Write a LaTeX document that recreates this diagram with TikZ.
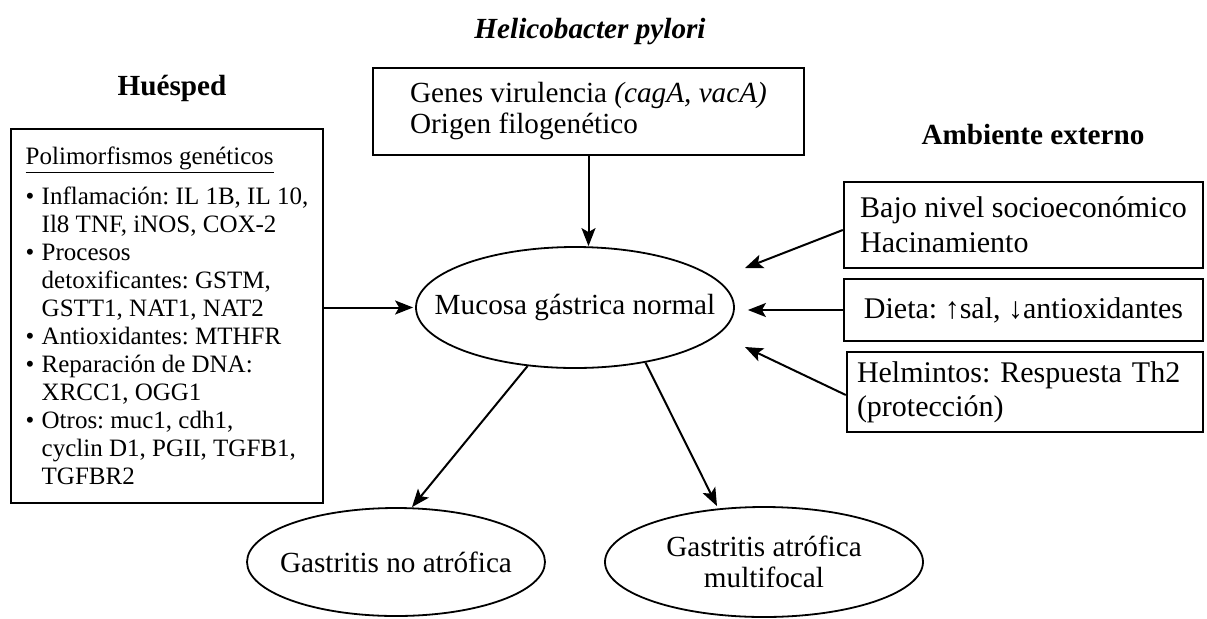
\documentclass[tikz,border=0pt]{standalone}
\usepackage{fontspec}
\setmainfont{Liberation Serif}
\usetikzlibrary{arrows.meta,shapes.geometric}
\newcommand{\bl}{\makebox[8pt][l]{\textbullet}}
\newcommand{\ind}{\hspace*{8pt}}
\frenchspacing

\begin{document}
\begin{tikzpicture}[x=0.5pt,y=-0.5pt,
  font=\fontsize{14.6}{15.5}\selectfont,
  box/.style={draw,line width=1.2pt,align=left,inner sep=0pt},
  oval/.style={draw,ellipse,line width=0.9pt,inner sep=0pt,align=center},
  arr/.style={-{Stealth[length=9pt,width=7pt,inset=2pt]},line width=1pt},
  ttl/.style={font=\fontsize{14.6}{15.5}\selectfont\bfseries}]
  \useasboundingbox (0,0) rectangle (1207,618);
  % headings
  \node[ttl] (hp) at (590,32) {\itshape Helicobacter pylori};
  \node[ttl] (huesped) at (172,88) {Huésped};
  \node[ttl] (ambiente) at (1033,135) {Ambiente externo};
  % bacteria
  \node[box,minimum width=215.5pt,minimum height=43.5pt] (virul) at (588.5,111.5)
    {Genes virulencia \textit{(cagA, vacA)}\\Origen filogenético};
  % host
  \node[box,minimum width=156pt,minimum height=187pt,font=\fontsize{12.5}{14}\selectfont] (host) at (167,316)
    {\underline{Polimorfismos genéticos}\\[6pt]
     \bl Inflamación: IL 1B, IL 10,\\ \ind Il8 TNF, iNOS, COX-2\\
     \bl Procesos\\ \ind detoxificantes: GSTM,\\ \ind GSTT1, NAT1, NAT2\\
     \bl Antioxidantes: MTHFR\\
     \bl Reparación de DNA:\\ \ind XRCC1, OGG1\\
     \bl Otros: muc1, cdh1,\\ \ind cyclin D1, PGII, TGFB1,\\ \ind TGFBR2};
  \node[oval,minimum width=159pt,minimum height=60.5pt] (mucosa) at (575,307.5)
    {\makebox[0pt]{Mucosa gástrica normal}};
  % environment
  \node[box,minimum width=179.5pt,minimum height=43pt,font=\fontsize{15}{17.5}\selectfont] (bajo) at (1023.5,225)
    {Bajo nivel socioeconómico\\Hacinamiento};
  \node[box,minimum width=179.5pt,minimum height=31pt,font=\fontsize{15}{17.5}\selectfont] (dieta) at (1023.5,310)
    {Dieta: ↑sal, ↓antioxidantes};
  \node[box,minimum width=178pt,minimum height=40pt,text width=168pt,inner xsep=5pt,
    font=\fontsize{15}{17}\selectfont] (helm) at (1025,392)
    {Helmintos: Respuesta Th2\\(protección)};
  % outcomes
  \node[oval,minimum width=149pt,minimum height=54pt] (gastno) at (396,562)
    {\makebox[0pt]{Gastritis no atrófica}};
  \node[oval,minimum width=159pt,minimum height=55pt] (gastmulti) at (764,562)
    {Gastritis atrófica\\multifocal};
  \coordinate (bajoend) at (745,268);
  \coordinate (helmend) at (745,347);
  \draw[arr] (virul.south) -- (virul.south |- mucosa.north);
  \draw[arr,shorten >=1pt] (host.east |- mucosa.west) -- (mucosa.west);
  \draw[arr,shorten >=6.5pt] (dieta.west) -- (dieta.west -| mucosa.east);
  \draw[arr] ([yshift=-2.5pt]bajo.west) -- (bajoend);
  \draw[arr] ([yshift=-1.5pt]helm.west) -- (helmend);
  \draw[arr] (mucosa.231) -- ([xshift=8pt]gastno.north);
  \draw[arr] (mucosa.322) -- ([xshift=-23.5pt]gastmulti.north);
\end{tikzpicture}
\end{document}
